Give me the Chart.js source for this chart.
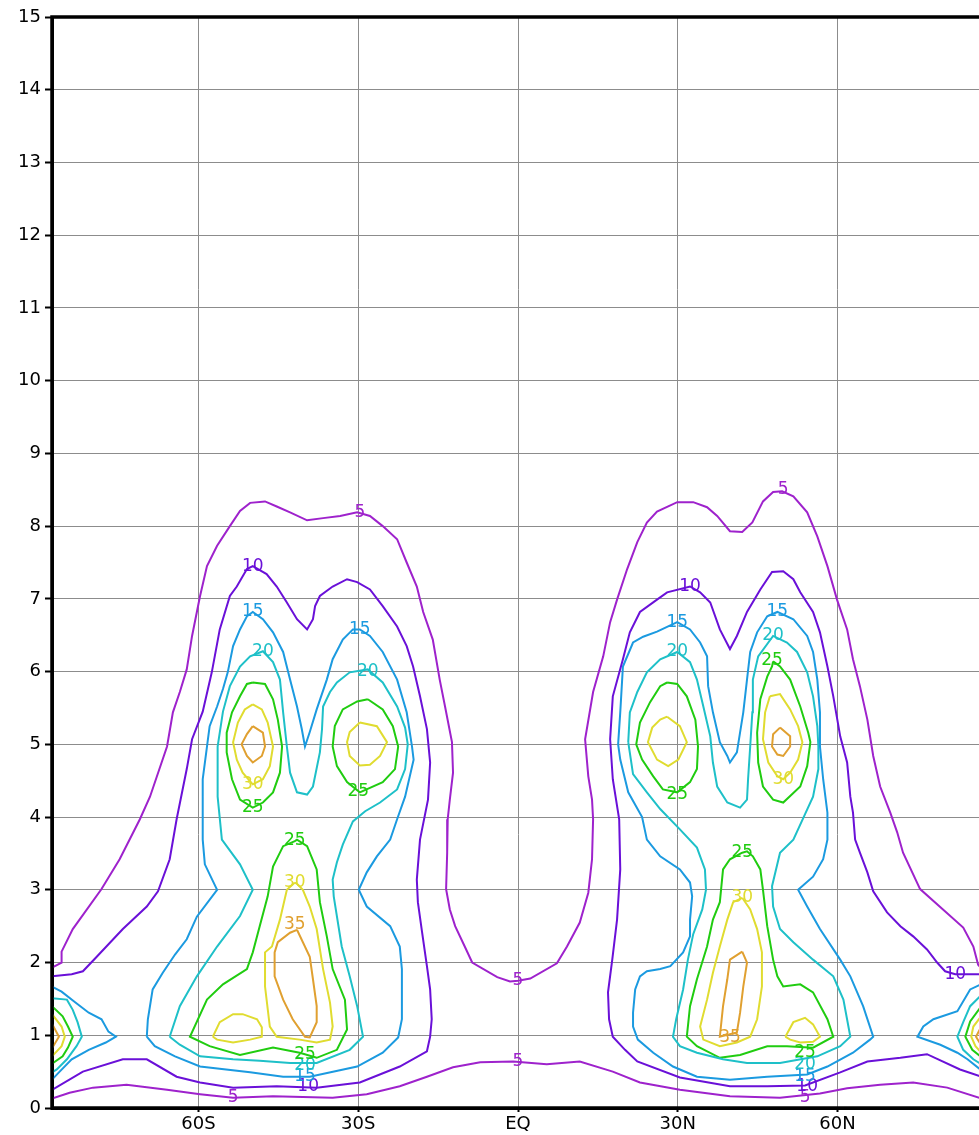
<!DOCTYPE html>
<html>
<head>
<meta charset="utf-8">
<script src="https://cdn.jsdelivr.net/npm/chart.js@4/dist/chart.umd.min.js"></script>
<style>
  html, body { margin: 0; padding: 0; background: #fff; overflow: hidden; }
  #wrap { position: relative; width: 1000px; height: 1135px; }
</style>
</head>
<body>
<div id="wrap"><canvas id="chart" width="1000" height="1135"></canvas></div>
<script>
'use strict';

// axis setup
const latTicks = [-60, -30, 0, 30, 60];
const latTickLabels = ['60S', '30S', 'EQ', '30N', '60N'];
const heightTicks = [0, 1, 2, 3, 4, 5, 6, 7, 8, 9, 10, 11, 12, 13, 14, 15];

// contour lines, [latitude, height]
const c5Bottom = [[-87.5,0.13],[-84.2,0.21],[-79.8,0.28],[-73.5,0.32],[-65.9,0.25],[-59.7,0.19],[-53.5,0.14],[-46.0,0.16],[-34.8,0.14],[-28.4,0.19],[-22.2,0.30],[-17.1,0.43],[-12.2,0.56],[-7.1,0.63],[-0.9,0.64],[5.4,0.60],[11.6,0.64],[17.8,0.50],[22.9,0.35],[30.4,0.25],[39.8,0.16],[49.2,0.14],[56.7,0.20],[61.8,0.27],[68.0,0.32],[74.2,0.35],[80.6,0.28],[87.5,0.12]];

const c5Upper = [[-87.5,1.93],[-85.7,2.00],[-85.7,2.15],[-83.6,2.46],[-78.2,3.01],[-74.8,3.42],[-71.0,3.97],[-69.1,4.28],[-65.9,4.97],[-64.8,5.44],[-63.5,5.72],[-62.2,6.03],[-61.2,6.49],[-60.3,6.82],[-59.7,7.04],[-58.4,7.45],[-56.5,7.73],[-54.1,8.00],[-52.2,8.21],[-50.3,8.32],[-47.5,8.34],[-45.3,8.27],[-42.8,8.19],[-39.6,8.08],[-36.6,8.11],[-33.4,8.14],[-30.2,8.19],[-27.8,8.14],[-25.4,8.00],[-22.7,7.82],[-20.9,7.50],[-19.0,7.17],[-17.8,6.82],[-16.0,6.44],[-14.7,5.89],[-13.7,5.52],[-12.4,5.03],[-12.2,4.61],[-12.8,4.24],[-13.2,3.97],[-13.3,3.51],[-13.5,3.01],[-12.8,2.73],[-11.8,2.50],[-10.0,2.22],[-8.6,2.00],[-3.9,1.80],[-1.5,1.74],[0,1.75],[2.3,1.78],[7.3,1.99],[9.2,2.22],[11.6,2.55],[13.2,2.96],[13.9,3.42],[14.1,3.97],[13.9,4.24],[13.2,4.56],[12.6,5.07],[14.1,5.72],[16.0,6.21],[17.3,6.68],[18.6,6.99],[20.5,7.41],[22.4,7.78],[24.2,8.05],[26.1,8.20],[29.9,8.33],[32.9,8.33],[35.5,8.26],[37.4,8.14],[39.8,7.93],[42.1,7.92],[44.0,8.05],[46.0,8.34],[47.9,8.47],[49.6,8.48],[51.7,8.41],[54.3,8.19],[56.2,7.86],[58.1,7.45],[59.9,6.99],[61.8,6.58],[62.9,6.17],[64.2,5.80],[65.6,5.34],[66.7,4.84],[68.0,4.42],[69.9,4.06],[71.2,3.79],[72.3,3.51],[75.5,3.01],[79.8,2.73],[83.6,2.48],[85.5,2.22],[86.4,1.97],[87.5,1.88]];

const c10South = [[-87.5,0.25],[-81.7,0.50],[-74.2,0.67],[-69.7,0.67],[-64.1,0.43],[-59.7,0.35],[-53.5,0.28],[-45.3,0.30],[-37.8,0.28],[-29.7,0.35],[-22.2,0.57],[-17.1,0.78],[-16.5,0.98],[-16.2,1.22],[-16.5,1.63],[-17.1,1.95],[-18.0,2.41],[-18.8,2.83],[-19.0,3.14],[-18.4,3.69],[-16.9,4.24],[-16.5,4.75],[-17.1,5.21],[-18.4,5.66],[-19.7,6.07],[-20.9,6.35],[-22.7,6.62],[-25.4,6.90],[-27.8,7.13],[-30.2,7.23],[-32.1,7.27],[-34.8,7.17],[-37.2,7.04],[-38.1,6.90],[-38.5,6.72],[-39.6,6.58],[-41.5,6.72],[-43.4,6.95],[-45.3,7.17],[-47.2,7.34],[-49.8,7.45],[-50.9,7.41],[-52.8,7.17],[-54.1,7.04],[-56.0,6.58],[-57.5,5.99],[-59.2,5.45],[-61.2,5.07],[-62.2,4.66],[-64.1,3.97],[-65.4,3.42],[-67.6,2.98],[-69.7,2.77],[-74.2,2.46],[-79.1,2.08],[-81.7,1.88],[-83.8,1.84],[-87.5,1.81]];

const c10North = [[87.5,1.84],[82.1,1.84],[80.2,1.88],[78.7,2.00],[76.8,2.18],[74.2,2.36],[71.8,2.50],[69.3,2.69],[66.7,2.98],[65.6,3.24],[64.2,3.51],[63.3,3.69],[62.9,4.06],[62.4,4.28],[61.8,4.75],[60.5,5.11],[59.2,5.66],[58.1,6.07],[56.7,6.54],[55.4,6.82],[53.0,7.09],[51.7,7.27],[49.8,7.38],[47.7,7.37],[45.5,7.13],[43.0,6.82],[41.1,6.49],[39.8,6.31],[37.9,6.58],[36.1,6.95],[34.2,7.09],[32.3,7.17],[28.0,7.09],[26.1,6.99],[22.9,6.82],[21.0,6.54],[19.7,6.17],[17.8,5.66],[17.3,5.07],[17.8,4.52],[19.0,3.97],[19.2,3.28],[18.6,2.59],[17.7,2.04],[16.9,1.59],[17.1,1.22],[17.8,0.98],[20.1,0.80],[22.4,0.64],[30.4,0.42],[39.8,0.30],[46.8,0.30],[53.9,0.31],[60.5,0.49],[65.6,0.64],[71.8,0.69],[76.8,0.74],[83.0,0.53],[87.5,0.42]];

const c15West = [[-87.5,1.67],[-85.7,1.60],[-83.1,1.45],[-80.6,1.31],[-78.2,1.22],[-76.9,1.05],[-75.5,0.98],[-77.4,0.90],[-80.6,0.80],[-83.8,0.67],[-86.2,0.49],[-87.5,0.39]];

const c15South = [[-69.7,0.98],[-69.5,1.22],[-68.6,1.63],[-66.7,1.86],[-64.4,2.11],[-62.2,2.32],[-60.3,2.63],[-56.5,3.00],[-58.8,3.35],[-59.2,3.69],[-59.2,4.52],[-58.4,4.97],[-57.9,5.25],[-56.5,5.52],[-55.4,5.76],[-54.5,5.99],[-53.5,6.35],[-52.2,6.58],[-50.9,6.76],[-49.8,6.82],[-47.9,6.72],[-46.0,6.54],[-44.1,6.27],[-42.8,5.89],[-41.5,5.52],[-40.6,5.21],[-40.0,4.97],[-39.1,5.17],[-37.8,5.48],[-35.9,5.89],[-34.8,6.17],[-32.9,6.44],[-31.0,6.58],[-29.7,6.58],[-27.8,6.49],[-25.4,6.27],[-22.7,5.89],[-20.9,5.44],[-19.9,4.97],[-19.6,4.79],[-21.2,4.28],[-22.7,3.97],[-24.0,3.69],[-26.5,3.46],[-28.4,3.24],[-29.9,3.00],[-28.4,2.77],[-24.0,2.50],[-22.2,2.22],[-21.8,1.91],[-21.8,1.22],[-22.5,0.97],[-25.4,0.76],[-30.2,0.57],[-39.1,0.43],[-44.1,0.43],[-50.3,0.49],[-59.7,0.57],[-64.4,0.71],[-68.2,0.85],[-69.7,0.98]];

const c15North = [[18.8,5.00],[19.2,5.44],[19.7,6.07],[21.6,6.40],[23.5,6.48],[26.1,6.55],[29.9,6.68],[32.3,6.58],[34.2,6.40],[35.5,6.21],[35.7,5.80],[36.6,5.44],[37.9,5.03],[39.3,4.84],[39.8,4.75],[41.1,4.89],[42.3,5.44],[43.0,5.89],[43.6,6.27],[44.9,6.54],[46.8,6.76],[48.7,6.82],[51.7,6.72],[54.3,6.49],[55.4,6.27],[56.2,5.89],[56.7,5.44],[56.7,4.97],[57.3,4.52],[58.1,4.06],[58.1,3.69],[57.3,3.42],[55.4,3.18],[52.6,3.00],[54.3,2.77],[56.7,2.46],[60.5,2.04],[62.4,1.81],[64.8,1.40],[66.7,0.98],[66.1,0.94],[62.9,0.76],[58.1,0.57],[54.3,0.46],[46.8,0.43],[39.8,0.39],[33.6,0.43],[29.1,0.57],[25.4,0.76],[22.5,0.94],[21.6,1.12],[21.6,1.31],[22.0,1.63],[22.9,1.81],[24.2,1.88],[26.7,1.91],[28.6,1.95],[31.0,2.14],[32.3,2.36],[32.3,2.59],[32.7,2.91],[32.3,3.10],[30.4,3.28],[26.7,3.46],[24.2,3.69],[23.3,4.00],[20.7,4.34],[19.2,4.79],[18.8,5.00]];

const c15East = [[87.5,1.72],[84.9,1.63],[82.5,1.33],[78.0,1.22],[76.1,1.12],[75.0,0.98],[79.3,0.87],[82.5,0.76],[84.4,0.67],[87.5,0.49]];

const c20West = [[-87.5,1.51],[-84.7,1.49],[-83.6,1.35],[-82.7,1.18],[-81.9,0.98],[-82.9,0.85],[-84.7,0.67],[-86.6,0.53],[-87.5,0.49]];

const c20South = [[-65.4,0.98],[-63.5,1.40],[-60.3,1.81],[-56.5,2.22],[-52.2,2.64],[-49.8,3.00],[-52.2,3.35],[-55.6,3.69],[-56.4,4.28],[-56.4,4.97],[-55.4,5.45],[-54.1,5.80],[-52.2,6.07],[-50.3,6.21],[-47.9,6.28],[-46.0,6.13],[-44.7,5.89],[-44.1,5.44],[-43.4,4.97],[-42.8,4.61],[-41.5,4.34],[-39.6,4.31],[-38.5,4.42],[-37.2,4.89],[-36.8,5.21],[-36.6,5.52],[-35.3,5.72],[-34.0,5.85],[-31.6,5.99],[-28.2,6.03],[-25.4,5.85],[-22.7,5.52],[-21.2,5.23],[-20.7,5.00],[-21.2,4.66],[-22.7,4.38],[-25.9,4.20],[-28.7,4.08],[-31.0,3.94],[-32.9,3.62],[-34.0,3.38],[-34.8,3.14],[-34.6,2.91],[-33.1,2.22],[-31.6,1.81],[-30.2,1.40],[-29.1,0.98],[-31.6,0.80],[-37.8,0.62],[-42.8,0.62],[-48.5,0.65],[-53.5,0.67],[-59.7,0.71],[-63.5,0.87],[-65.4,0.98]];

const c20North = [[20.7,5.03],[21.0,5.44],[22.4,5.72],[24.2,5.99],[26.7,6.17],[29.9,6.27],[32.3,6.13],[33.6,5.89],[34.8,5.52],[36.1,5.11],[36.6,4.75],[37.4,4.42],[39.3,4.20],[41.7,4.13],[43.0,4.24],[43.2,4.52],[43.6,4.97],[44.0,5.44],[44.1,5.89],[45.1,6.21],[47.9,6.49],[50.5,6.40],[52.4,6.27],[54.3,5.99],[55.4,5.66],[56.2,5.25],[56.4,4.97],[56.4,4.66],[55.4,4.28],[53.9,4.04],[51.7,3.69],[49.2,3.51],[47.7,3.05],[47.9,2.77],[49.2,2.46],[51.7,2.28],[55.4,2.04],[59.2,1.81],[61.1,1.49],[62.4,0.98],[60.5,0.85],[56.2,0.71],[49.2,0.62],[43.0,0.62],[38.5,0.67],[33.6,0.76],[30.4,0.85],[29.1,0.98],[29.7,1.22],[31.0,1.63],[31.9,2.04],[32.9,2.39],[34.6,2.73],[35.3,3.00],[35.1,3.28],[33.6,3.58],[30.4,3.83],[26.7,4.11],[24.2,4.34],[21.6,4.59],[20.7,5.03]];

const c20East = [[87.5,1.59],[84.9,1.40],[83.6,1.18],[82.5,0.98],[83.6,0.80],[85.5,0.67],[87.5,0.58]];

const c25West = [[-87.5,1.40],[-85.5,1.26],[-84.5,1.12],[-83.6,0.98],[-84.5,0.83],[-85.5,0.71],[-87.5,0.61]];

const c25SouthA = [[-49.8,5.85],[-47.5,5.83],[-46.0,5.62],[-45.1,5.34],[-44.3,4.97],[-44.7,4.61],[-46.0,4.34],[-47.9,4.20],[-49.8,4.13],[-52.2,4.24],[-53.7,4.52],[-54.7,4.89],[-54.7,5.16],[-53.7,5.44],[-52.2,5.66],[-50.9,5.83],[-49.8,5.85]];

const c25SouthB = [[-28.2,5.62],[-25.4,5.48],[-23.5,5.25],[-22.5,4.97],[-23.1,4.66],[-25.4,4.48],[-29.7,4.34],[-32.1,4.48],[-34.0,4.70],[-34.8,4.97],[-34.4,5.25],[-32.9,5.48],[-30.2,5.59],[-28.2,5.62]];

const c25SouthLow = [[-41.9,3.67],[-44.1,3.60],[-46.0,3.32],[-47.0,2.91],[-48.5,2.50],[-49.8,2.14],[-50.9,1.91],[-55.4,1.70],[-58.4,1.49],[-61.6,0.98],[-57.9,0.85],[-52.2,0.73],[-46.0,0.83],[-41.0,0.76],[-37.8,0.69],[-34.0,0.80],[-32.1,1.08],[-32.5,1.49],[-34.8,1.91],[-35.9,2.36],[-37.2,2.83],[-37.8,3.28],[-39.6,3.60],[-41.5,3.69],[-41.9,3.67]];

const c25NorthA = [[28.0,5.85],[29.9,5.83],[31.7,5.66],[33.3,5.34],[33.8,4.97],[33.6,4.66],[32.3,4.48],[29.9,4.34],[27.2,4.38],[25.4,4.56],[23.3,4.79],[22.2,5.00],[22.9,5.30],[24.8,5.58],[26.7,5.80],[28.0,5.85]];

const c25NorthB = [[47.9,6.14],[49.2,6.07],[51.1,5.89],[53.0,5.52],[54.5,5.16],[54.9,5.03],[54.3,4.70],[53.0,4.42],[49.8,4.20],[47.9,4.24],[46.0,4.42],[45.1,4.75],[44.9,5.16],[45.5,5.62],[46.8,5.93],[47.7,6.07],[47.9,6.14]];

const c25NorthLow = [[42.1,3.51],[39.8,3.42],[38.5,3.28],[37.9,2.83],[36.6,2.59],[35.5,2.22],[33.6,1.77],[32.3,1.40],[31.7,0.98],[33.6,0.85],[37.9,0.69],[41.7,0.73],[46.8,0.85],[50.5,0.85],[55.4,0.83],[59.2,0.98],[58.1,1.22],[55.4,1.59],[53.0,1.70],[49.8,1.67],[48.7,1.81],[47.9,2.04],[46.8,2.50],[46.0,3.00],[45.5,3.28],[44.1,3.46],[43.0,3.53],[42.1,3.51]];

const c25East = [[87.5,1.45],[84.9,1.19],[84.0,0.98],[85.3,0.80],[87.5,0.67]];

const c30West = [[-87.5,1.29],[-85.7,1.12],[-85.1,0.98],[-85.7,0.85],[-87.5,0.71]];

const c30SouthA = [[-49.8,5.55],[-48.1,5.48],[-47.0,5.30],[-46.0,4.97],[-46.6,4.70],[-47.9,4.52],[-49.8,4.45],[-51.7,4.61],[-52.8,4.79],[-53.5,5.03],[-52.6,5.30],[-51.3,5.48],[-49.8,5.55]];

const c30SouthB = [[-29.7,5.30],[-26.5,5.25],[-24.6,5.03],[-25.9,4.84],[-27.8,4.72],[-29.7,4.71],[-31.6,4.84],[-32.1,5.03],[-31.6,5.17],[-29.7,5.30]];

const c30SouthLow = [[-41.9,3.10],[-43.4,3.00],[-44.7,2.59],[-46.2,2.22],[-47.5,2.14],[-47.5,1.67],[-46.6,1.12],[-45.3,0.98],[-41.0,0.94],[-37.8,0.90],[-35.3,0.94],[-34.8,1.12],[-35.3,1.45],[-36.6,1.91],[-37.8,2.46],[-39.1,2.77],[-40.4,3.00],[-41.3,3.07],[-41.9,3.10]];

const c30SouthBlob = [[-57.3,0.98],[-56.0,1.18],[-53.5,1.29],[-51.7,1.29],[-49.0,1.22],[-48.1,1.11],[-48.1,0.98],[-50.3,0.94],[-53.5,0.90],[-56.5,0.94],[-57.3,0.98]];

const c30NorthA = [[28.0,5.38],[30.4,5.25],[31.7,5.03],[30.1,4.79],[28.2,4.70],[26.1,4.79],[24.4,5.03],[25.2,5.23],[26.7,5.34],[28.0,5.38]];

const c30NorthB = [[47.3,5.66],[49.2,5.69],[51.1,5.48],[52.6,5.25],[53.4,5.03],[52.6,4.79],[51.1,4.61],[49.8,4.52],[48.7,4.56],[47.0,4.75],[46.0,5.07],[46.4,5.44],[47.3,5.66]];

const c30NorthLow = [[42.1,2.89],[40.4,2.83],[39.3,2.59],[37.9,2.22],[36.6,1.86],[35.5,1.49],[34.2,1.12],[34.8,0.94],[37.9,0.85],[41.1,0.90],[43.6,0.98],[44.9,1.22],[45.8,1.67],[45.8,2.14],[44.9,2.46],[43.6,2.73],[42.3,2.87],[42.1,2.89]];

const c30NorthBlob = [[50.2,0.98],[51.7,1.18],[53.9,1.24],[55.4,1.15],[56.7,0.98],[55.4,0.91],[53.0,0.90],[51.1,0.94],[50.2,0.98]];

const c30East = [[87.5,1.31],[85.5,1.12],[85.1,0.98],[85.9,0.85],[87.5,0.72]];

const c35West = [[-87.5,1.16],[-86.2,0.98],[-87.5,0.82]];

const c35SouthA = [[-49.8,5.25],[-47.9,5.16],[-47.5,4.97],[-48.1,4.84],[-49.8,4.75],[-50.9,4.84],[-51.9,5.00],[-50.9,5.14],[-49.8,5.25]];

const c35SouthLow = [[-41.5,2.45],[-39.1,2.08],[-38.5,1.77],[-37.8,1.40],[-37.8,1.18],[-39.1,0.97],[-40.0,0.98],[-42.3,1.22],[-44.1,1.49],[-45.7,1.81],[-45.7,2.14],[-45.1,2.28],[-42.8,2.41],[-41.5,2.45]];

const c35NorthB = [[49.2,5.23],[51.1,5.11],[51.1,4.97],[49.8,4.84],[48.7,4.86],[47.7,4.97],[47.9,5.14],[49.2,5.23]];

const c35NorthLow = [[42.1,2.15],[43.0,2.00],[42.3,1.67],[41.7,1.31],[41.1,1.04],[37.9,0.98],[38.5,1.40],[39.3,1.77],[39.8,2.04],[42.1,2.15]];

const c35East = [[87.5,1.19],[86.0,0.98],[87.5,0.80]];

// contour labels: [latitude, height, level]
const contourLabels = [
    [-53.5,0.14,5],[0,0.64,5],[53.9,0.14,5],[-29.7,8.19,5],[0,1.75,5],[49.8,8.5,5],
    [-49.8,7.45,10],[-39.4,0.30,10],[32.3,7.17,10],[54.3,0.30,10],[82.1,1.84,10],
    [-49.8,6.82,15],[-29.7,6.58,15],[-40.0,0.43,15],[29.9,6.68,15],[48.7,6.82,15],[53.9,0.43,15],
    [-47.9,6.28,20],[-28.2,6.0,20],[-40.0,0.58,20],[29.9,6.27,20],[47.9,6.49,20],[53.9,0.60,20],
    [-49.8,4.13,25],[-30.0,4.35,25],[-41.9,3.67,25],[-40.0,0.74,25],[29.9,4.31,25],[47.7,6.15,25],[42.1,3.51,25],[53.9,0.76,25],
    [-49.8,4.45,30],[-41.9,3.10,30],[49.8,4.52,30],[42.1,2.89,30],
    [-41.9,2.52,35],[39.8,0.97,35]
];

const levelColors = {
    5: '#9e22cc',
    10: '#6a10d8',
    15: '#1b9ae0',
    20: '#1ec0c8',
    25: '#20cc10',
    30: '#e0dc30',
    35: '#e0a030'
};

const contours = [
    [5, c5Bottom], [5, c5Upper],
    [10, c10South], [10, c10North],
    [15, c15West], [15, c15South], [15, c15North], [15, c15East],
    [20, c20West], [20, c20South], [20, c20North], [20, c20East],
    [25, c25West], [25, c25SouthA], [25, c25SouthB], [25, c25SouthLow],
    [25, c25NorthA], [25, c25NorthB], [25, c25NorthLow], [25, c25East],
    [30, c30West], [30, c30SouthA], [30, c30SouthB], [30, c30SouthLow], [30, c30SouthBlob],
    [30, c30NorthA], [30, c30NorthB], [30, c30NorthLow], [30, c30NorthBlob], [30, c30East],
    [35, c35West], [35, c35SouthA], [35, c35SouthLow], [35, c35NorthB], [35, c35NorthLow], [35, c35East]
];

const FONT = '"DejaVu Sans", "Liberation Sans", sans-serif';

const datasets = contours.map(([level, pts]) => ({
    label: String(level),
    data: pts.map(p => ({ x: p[0], y: p[1] })),
    showLine: true,
    borderColor: levelColors[level],
    backgroundColor: levelColors[level],
    borderWidth: 2,
    pointRadius: 0,
    tension: 0,
    fill: false
}));

const contourLabelPlugin = {
    id: 'contourLabels',
    afterDatasetsDraw(chart) {
        const ctx = chart.ctx;
        const xs = chart.scales.x;
        const ys = chart.scales.y;
        ctx.save();
        ctx.font = '17px ' + FONT;
        ctx.textAlign = 'center';
        ctx.textBaseline = 'middle';
        for (const [lat, h, level] of contourLabels) {
            ctx.fillStyle = levelColors[level];
            ctx.fillText(String(level), xs.getPixelForValue(lat), ys.getPixelForValue(h));
        }
        ctx.restore();
    }
};

const framePlugin = {
    id: 'frame',
    afterDraw(chart) {
        const a = chart.chartArea;
        const ctx = chart.ctx;
        ctx.save();
        ctx.strokeStyle = '#000';
        ctx.lineWidth = 3.5;
        ctx.strokeRect(a.left, a.top, a.right - a.left, a.bottom - a.top);
        ctx.restore();
    }
};

new Chart(document.getElementById('chart'), {
    type: 'scatter',
    data: { datasets },
    plugins: [contourLabelPlugin, framePlugin],
    options: {
        responsive: false,
        animation: false,
        events: [],
        layout: { padding: { top: 17, right: 16, left: 0, bottom: 0 } },
        plugins: {
            legend: { display: false },
            tooltip: { enabled: false }
        },
        scales: {
            x: {
                type: 'linear',
                min: -87.5,
                max: 87.5,
                afterBuildTicks: scale => {
                    scale.ticks = latTicks.map(v => ({ value: v }));
                },
                afterFit: scale => { scale.height = 27; },
                ticks: {
                    color: '#000',
                    font: { family: FONT, size: 18 },
                    padding: 2,
                    maxRotation: 0,
                    callback: v => latTickLabels[latTicks.indexOf(v)]
                },
                grid: {
                    color: '#8c8c8c',
                    lineWidth: 1,
                    tickColor: '#000',
                    tickWidth: 2,
                    tickLength: 4
                },
                border: { display: true, color: '#000', width: 3 }
            },
            y: {
                type: 'linear',
                min: 0,
                max: 15,
                afterBuildTicks: scale => {
                    scale.ticks = heightTicks.map(v => ({ value: v }));
                },
                afterFit: scale => { scale.width = 52; },
                ticks: {
                    color: '#000',
                    font: { family: FONT, size: 18 },
                    padding: 4,
                    callback: v => String(v)
                },
                grid: {
                    color: c => (c.tick && (c.tick.value === 0 || c.tick.value === 15)) ? 'rgba(0,0,0,0)' : '#8c8c8c',
                    lineWidth: 1,
                    tickColor: '#000',
                    tickWidth: 2,
                    tickLength: 7
                },
                border: { display: true, color: '#000', width: 3 }
            }
        }
    }
});
</script>
</body>
</html>
